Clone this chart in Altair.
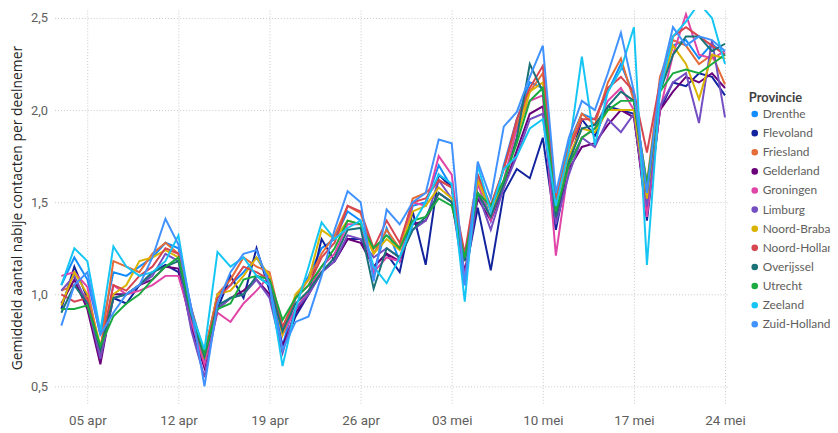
import altair as alt
import pandas as pd

start = "2020-04-03"
n_days = 52

provinces = ["Drenthe", "Flevoland", "Friesland", "Gelderland", "Groningen", "Limburg",
             "Noord-Brabant", "Noord-Holland", "Overijssel", "Utrecht", "Zeeland", "Zuid-Holland"]
colors = ["#118DFF", "#12239E", "#E66C37", "#6B007B", "#E044A7", "#744EC2",
          "#D9B300", "#D64550", "#197278", "#1AAB40", "#15C6F4", "#4092FF"]

drenthe = [1.05,1.20,1.08,0.78,1.12,1.10,1.15,1.20,1.28,1.25,0.92,0.68,1.00,1.05,1.12,1.20,1.08,0.72,0.98,1.10,1.25,1.30,1.45,1.40,1.12,1.36,1.18,1.48,1.50,1.70,1.58,1.05,1.65,1.40,1.70,1.95,2.15,2.12,1.50,1.82,1.98,1.95,2.10,2.25,2.08,1.42,2.12,2.35,2.38,2.28,2.36,2.30]
flevoland = [0.92,1.15,0.98,0.65,0.98,0.95,1.05,1.12,1.16,1.12,0.85,0.62,0.92,1.10,0.98,1.25,1.02,0.70,0.88,1.00,1.30,1.18,1.30,1.30,1.15,1.22,1.12,1.45,1.16,1.65,1.58,1.10,1.47,1.13,1.55,1.68,1.63,1.85,1.35,1.70,1.95,1.86,2.02,2.00,1.98,1.40,2.00,2.15,2.13,2.20,2.18,2.08]
friesland = [1.02,1.05,0.98,0.70,1.18,1.15,1.12,1.22,1.28,1.22,0.90,0.68,1.00,1.08,1.20,1.15,1.12,0.82,0.98,1.08,1.22,1.32,1.48,1.44,1.22,1.35,1.25,1.52,1.55,1.62,1.58,1.20,1.62,1.48,1.68,1.92,2.10,2.20,1.52,1.80,1.98,1.92,2.15,2.28,2.05,1.60,2.18,2.38,2.35,2.25,2.30,2.14]
gelderland = [0.95,1.08,0.92,0.62,1.00,1.00,1.05,1.08,1.15,1.14,0.82,0.60,0.92,0.98,1.02,1.08,1.00,0.72,0.90,1.00,1.12,1.18,1.30,1.28,1.15,1.22,1.18,1.38,1.40,1.55,1.50,1.12,1.52,1.40,1.58,1.78,1.98,2.02,1.40,1.68,1.80,1.82,1.92,2.00,1.96,1.45,2.00,2.10,2.18,2.15,2.20,2.12]
groningen = [1.10,1.12,1.04,0.68,1.05,1.00,1.02,1.05,1.10,1.10,0.85,0.62,0.90,0.85,0.95,1.02,1.10,0.78,0.92,1.02,1.15,1.22,1.38,1.38,1.12,1.20,1.18,1.50,1.48,1.75,1.65,1.08,1.60,1.40,1.62,1.90,2.05,2.08,1.21,1.70,1.85,1.90,2.05,2.12,2.00,1.42,2.00,2.30,2.52,2.30,2.28,2.32]
limburg = [1.02,1.10,0.95,0.65,0.98,1.00,1.05,1.10,1.22,1.18,0.80,0.55,0.92,0.98,1.00,1.08,0.98,0.68,0.92,1.00,1.12,1.18,1.32,1.30,1.20,1.25,1.20,1.35,1.40,1.62,1.52,1.05,1.55,1.35,1.58,1.75,1.95,1.98,1.38,1.65,1.85,1.80,1.95,1.88,1.98,1.48,2.02,2.15,2.20,1.93,2.38,1.96]
noord_brabant = [0.94,1.12,1.00,0.72,1.00,1.05,1.18,1.20,1.24,1.20,0.90,0.65,1.00,1.02,1.10,1.20,1.10,0.78,1.00,1.08,1.35,1.30,1.40,1.38,1.22,1.30,1.24,1.45,1.48,1.58,1.52,1.18,1.62,1.45,1.60,1.85,2.10,2.15,1.48,1.75,1.90,1.88,2.00,2.00,2.00,1.52,2.10,2.35,2.25,2.06,2.30,2.28]
noord_holland = [1.00,0.96,0.98,0.70,1.05,1.02,1.10,1.15,1.25,1.22,0.92,0.66,0.98,1.05,1.15,1.12,1.08,0.82,0.98,1.05,1.20,1.28,1.48,1.45,1.25,1.40,1.28,1.50,1.52,1.62,1.58,1.22,1.65,1.48,1.68,1.95,2.12,2.24,1.50,1.78,1.95,1.95,2.12,2.18,2.10,1.77,2.15,2.40,2.45,2.40,2.35,2.30]
overijssel = [0.90,1.05,0.95,0.70,0.98,1.00,1.05,1.12,1.15,1.18,0.88,0.66,0.94,0.98,1.00,1.10,1.05,0.80,0.95,1.02,1.12,1.20,1.35,1.36,1.03,1.25,1.20,1.35,1.42,1.55,1.50,1.18,1.55,1.42,1.60,1.85,2.25,2.10,1.42,1.72,1.90,1.92,2.02,2.10,2.05,1.55,2.10,2.30,2.40,2.40,2.32,2.36]
utrecht = [0.92,0.92,0.94,0.72,0.88,0.95,1.00,1.08,1.15,1.20,0.90,0.68,0.92,0.95,1.08,1.10,1.08,0.86,0.98,1.05,1.15,1.25,1.40,1.38,1.25,1.32,1.25,1.40,1.42,1.52,1.48,1.20,1.55,1.48,1.62,1.82,2.05,2.12,1.45,1.70,1.85,1.90,2.00,2.05,2.05,1.60,2.10,2.20,2.22,2.20,2.25,2.30]
zeeland = [1.05,1.25,1.18,0.80,1.26,1.15,1.10,1.12,1.18,1.32,0.90,0.70,1.23,1.15,1.20,1.10,1.05,0.61,0.92,1.15,1.39,1.30,1.36,1.40,1.15,1.06,1.20,1.38,1.50,1.65,1.60,0.96,1.70,1.45,1.68,1.75,1.90,1.95,1.48,1.78,2.29,1.81,2.10,2.22,2.45,1.16,2.10,2.40,2.48,2.58,2.50,2.25]
zuid_holland = [0.83,1.05,1.12,0.78,0.90,1.00,1.05,1.20,1.41,1.27,0.92,0.50,0.95,1.12,1.22,1.24,1.05,0.70,0.85,0.88,1.10,1.35,1.56,1.50,1.07,1.46,1.38,1.50,1.55,1.84,1.82,1.05,1.72,1.52,1.91,1.99,2.18,2.35,1.55,1.85,2.05,2.00,2.20,2.42,2.10,1.55,2.15,2.45,2.35,2.40,2.38,2.32]

series = [drenthe, flevoland, friesland, gelderland, groningen, limburg,
          noord_brabant, noord_holland, overijssel, utrecht, zeeland, zuid_holland]

dates = pd.date_range(start, periods=n_days, freq="D")
rows = []
for name, vals in zip(provinces, series):
    for d, v in zip(dates, vals):
        rows.append({"datum": d.strftime("%Y-%m-%dT00:00:00"), "Provincie": name, "waarde": v})
df = pd.DataFrame(rows)

tick_dates = [alt.DateTime(year=2020, month=4, date=5), alt.DateTime(year=2020, month=4, date=12),
              alt.DateTime(year=2020, month=4, date=19), alt.DateTime(year=2020, month=4, date=26),
              alt.DateTime(year=2020, month=5, date=3), alt.DateTime(year=2020, month=5, date=10),
              alt.DateTime(year=2020, month=5, date=17), alt.DateTime(year=2020, month=5, date=24)]

x_dom = [alt.DateTime(year=2020, month=4, date=2, hours=11, minutes=30),
         alt.DateTime(year=2020, month=5, date=24, hours=5, minutes=30)]

chart = alt.Chart(df).mark_line(strokeWidth=2, clip=True).encode(
    x=alt.X("datum:T", title=None,
            scale=alt.Scale(domain=x_dom),
            axis=alt.Axis(values=tick_dates, domain=False, ticks=False,
                          labelExpr="timeFormat(datum.value, '%d') + ' ' + (month(datum.value) == 3 ? 'apr' : 'mei')",
                          labelFont="Roboto", labelFontSize=13.5, labelColor="#605E5C",
                          labelPadding=8, grid=True, gridDash=[1, 2], gridColor="#C8C8C8",
                          labelAngle=0)),
    y=alt.Y("waarde:Q", title="Gemiddeld aantal nabije contacten per deelnemer",
            scale=alt.Scale(domain=[0.398, 2.543], nice=False, zero=False),
            axis=alt.Axis(values=[0.5, 1.0, 1.5, 2.0, 2.5], domain=False, ticks=False,
                          labelExpr="replace(format(datum.value, '.1f'), '.', ',')",
                          labelFont="Roboto", labelFontSize=13, labelColor="#605E5C",
                          labelPadding=7, grid=True, gridDash=[1, 2], gridColor="#C8C8C8",
                          titleFont="Open Sans", titleFontSize=14, titleFontWeight="normal",
                          titleColor="#252423", titlePadding=6)),
    color=alt.Color("Provincie:N",
                    scale=alt.Scale(domain=provinces, range=colors),
                    legend=alt.Legend(title="Provincie", orient="none", legendX=701, legendY=83,
                                      titleFont="Lato", titleFontSize=13, titleFontWeight="bold",
                                      titleColor="#404040", titlePadding=3,
                                      labelFont="Lato", labelFontSize=12, labelColor="#605E5C",
                                      symbolType="circle", symbolSize=10, symbolStrokeWidth=3.5,
                                      rowPadding=1.3, labelOffset=2)),
).properties(
    width=680, height=399,
    autosize=alt.AutoSizeParams(type="none"),
    padding={"left": 47, "top": 0, "right": 103, "bottom": 26},
).configure_view(stroke=None)

chart.save("out.html", embed_options={"renderer": "svg", "actions": False})
